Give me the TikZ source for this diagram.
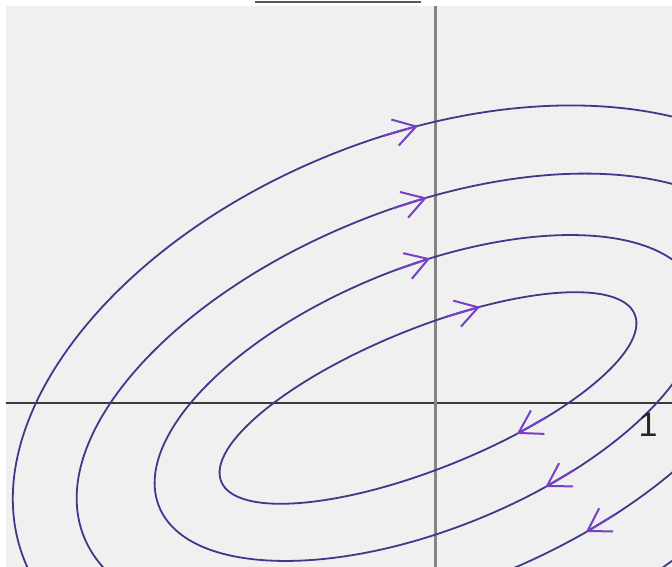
\documentclass[tikz,border=0pt]{standalone}
\usepackage{fontspec}
\setsansfont{Liberation Sans}
\usetikzlibrary{arrows.meta}
\definecolor{bggray}{HTML}{F0F0F0}
\definecolor{curvecol}{HTML}{3E3A8A}
\definecolor{arrcol}{HTML}{7640C4}
\definecolor{xaxiscol}{HTML}{3A3A3A}
\definecolor{yaxiscol}{HTML}{858585}
\tikzset{
  orbit/.style={draw=curvecol, line width=1.8pt},
  flowarr/.style={draw=arrcol, line width=2pt, -{Straight Barb[length=22pt,width=27pt,line width=2pt]}},
  xaxisline/.style={draw=xaxiscol, line width=2pt},
  yaxisline/.style={draw=yaxiscol, line width=3pt},
  ticklabel/.style={font=\sffamily\fontsize{34}{34}\selectfont, text=black!85, inner sep=0pt}
}
\newcommand\flowarrow[4]{%
  \draw[flowarr] ({#1*cos(#3+#4)},{#2*sin(#3+#4)}) -- ({#1*cos(#3)},{#2*sin(#3)});}
\begin{document}
\begin{tikzpicture}[x=1pt,y=1pt]
\useasboundingbox (0,0) rectangle (672,567);
\fill[white] (0,0) rectangle (672,567);
\fill[bggray] (6,0) rectangle (672,561);
% cut-off underline at the top
\draw[draw=black!65, line width=2pt] (255,564.5) -- (421,564.5);
\begin{scope}
\clip (6,0) rectangle (672,561);
% axes
\draw[xaxisline] (6,163.7) -- (672,163.7);
\draw[yaxisline] (435.7,0) -- (435.7,561);
% orbits
\begin{scope}[shift={(428,169)}, rotate=22]
  \draw[orbit] (0,0) ellipse [x radius=223pt, y radius=70pt];
  \draw[orbit] (0,0) ellipse [x radius=290pt, y radius=131pt];
  \draw[orbit] (0,0) ellipse [x radius=371pt, y radius=190pt];
  \draw[orbit] (0,0) ellipse [x radius=435pt, y radius=262pt];
  % arrows on upper part
  \flowarrow{223}{70}{68.3}{9.6}
  \flowarrow{290}{131}{79.2}{7}
  \flowarrow{371}{190}{78.5}{5.5}
  \flowarrow{435}{262}{77.7}{4.7}
  % arrows on lower part
  \flowarrow{223}{70}{-72}{9.5}
  \flowarrow{290}{131}{-74.9}{7}
  \flowarrow{371}{190}{-75}{5.5}
\end{scope}
\end{scope}
\node[ticklabel] (one) at (648,142) {1};
\end{tikzpicture}
\end{document}
